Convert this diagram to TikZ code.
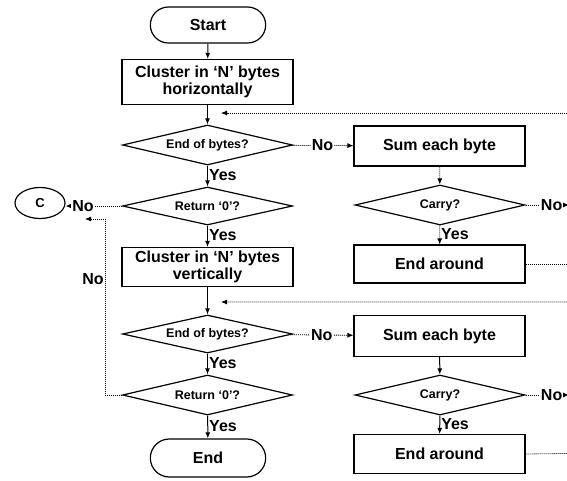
\documentclass[tikz,border=0pt]{standalone}
\usepackage{fontspec}
\setmainfont{Liberation Sans}
\usetikzlibrary{shapes.geometric,shapes.misc,arrows.meta}

\begin{document}
\begin{tikzpicture}[x=1pt,y=-1pt,
  term/.style={draw,line width=1.2pt,rounded rectangle,minimum width=122pt,minimum height=36pt,font=\fontsize{16}{16}\bfseries},
  box/.style={draw,line width=1.2pt,rectangle,minimum width=171pt,minimum height=40pt,inner sep=2pt,align=center,font=\fontsize{16}{17}\bfseries},
  dec/.style={draw,line width=1.2pt,diamond,aspect=4.25,minimum width=170pt,minimum height=40pt,inner sep=0pt,font=\fontsize{12.5}{13}\bfseries},
  arr/.style={-{Latex[length=6pt,width=5pt]},line width=1pt},
  dots/.style={densely dotted,line width=0.8pt},
  lab/.style={font=\fontsize{16}{16}\bfseries,inner sep=1pt}
]
\clip (0,0) rectangle (567,480);

% horizontal pass
\node[term] (start) at (208,25) {Start};
\node[box,minimum height=45pt] (clh) at (207.5,82) {Cluster in `N' bytes\\horizontally};
\node[dec] (eob1) at (207.5,145) {End of bytes?};
\node[dec,minimum height=38pt] (ret1) at (207.5,206) {Return `0'?};
\node[draw,ellipse,line width=1.2pt,minimum width=50pt,minimum height=31pt,font=\fontsize{13}{13}\bfseries] (c) at (40,203) {C};

\node[box] (sum1) at (439.5,146) {Sum each byte};
\node[dec] (car1) at (440,205) {Carry?};
\node[box,minimum height=38pt] (ea1) at (439.5,264) {End around};

% vertical pass
\node[box,minimum height=39pt] (clv) at (207.5,267) {Cluster in `N' bytes\\vertically};
\node[dec,minimum height=38pt] (eob2) at (207.5,334) {End of bytes?};
\node[dec] (ret2) at (207.5,395) {Return `0'?};
\node[term,minimum height=38pt] (end) at (208,458) {End};

\node[box,minimum height=41pt] (sum2) at (439.5,336) {Sum each byte};
\node[dec] (car2) at (440,395) {Carry?};
\node[box,minimum height=39pt] (ea2) at (439.5,454) {End around};

\coordinate (j1) at (221,113);
\coordinate (j2) at (221,302);
\coordinate (r1) at (600,264);
\coordinate (r2) at (600,453);
\coordinate (k1) at (569,205);
\coordinate (k2) at (569,395);
\coordinate (lp) at (105,395);
\coordinate (lq) at (105,219);
\coordinate (lc) at (85,219);

\draw[arr] (start) -- (clh);
\draw[arr] (clh) -- (eob1);
\draw[arr] (eob1) -- node[lab,right,pos=0.45] {Yes} (ret1);
\draw[arr,dots] (ret1.west) -- node[lab,fill=white,pos=0.69] {No} (c.east |- ret1.west);
\draw[arr] (ret1) -- node[lab,right,pos=0.45] {Yes} (clv);
\draw[arr] (clv) -- (eob2);
\draw[arr] (eob2) -- node[lab,right,pos=0.45] {Yes} (ret2);
\draw[arr] (ret2) -- node[lab,right,pos=0.45] {Yes} (end);
\draw[arr,dots] (ret2.west) -- (lp) -- node[lab,left,pos=0.66] {No} (lq) -- (lc);

\draw[arr,dots] (eob1) -- node[lab,fill=white] {No} (sum1);
\draw[arr,dots] (sum1) -- (car1);
\draw[arr,dots] (car1) -- node[lab,right,pos=0.45] {Yes} (ea1);
\draw[arr,dots] (car1) -- node[lab,fill=white,pos=0.6] {No} (k1);
\draw[arr,dots] (ea1.east) -- (r1) |- (j1);

\draw[arr,dots] (eob2) -- node[lab,fill=white] {No} (sum2);
\draw[arr] (sum2) -- (car2);
\draw[arr] (car2) -- node[lab,right,pos=0.45] {Yes} (ea2);
\draw[arr,dots] (car2) -- node[lab,fill=white,pos=0.6] {No} (k2);
\draw[arr,dots] (ea2.east) -- (r2) |- (j2);
\end{tikzpicture}
\end{document}
